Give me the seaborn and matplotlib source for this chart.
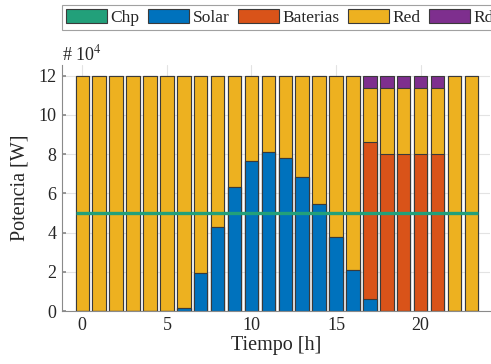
import numpy as np
import pandas as pd
import matplotlib
matplotlib.use("Agg")
import matplotlib.pyplot as plt
import seaborn as sns
from matplotlib.patches import Patch

sns.set_theme(style="white")
plt.rcParams['font.family'] = ['Liberation Serif', 'DejaVu Serif']
plt.rcParams['mathtext.fontset'] = 'stix'

hours = list(range(24))
chp = [5.0] * 24
solar = [0, 0, 0, 0, 0, 0, 0.15, 1.95, 4.3, 6.35, 7.65, 8.1, 7.8, 6.85, 5.45, 3.8, 2.1, 0.6,
         0, 0, 0, 0, 0, 0]
baterias = [0, 0, 0, 0, 0, 0, 0, 0, 0, 0, 0, 0, 0, 0, 0, 0, 0, 8.0, 8.0, 8.0, 8.0, 8.0, 0, 0]
red = [12, 12, 12, 12, 12, 12, 11.85, 10.05, 7.7, 5.65, 4.35, 3.9, 4.2, 5.15, 6.55, 8.2, 9.9,
       2.8, 3.4, 3.4, 3.4, 3.4, 12, 12]
rd = [0, 0, 0, 0, 0, 0, 0, 0, 0, 0, 0, 0, 0, 0, 0, 0, 0, 0.6, 0.6, 0.6, 0.6, 0.6, 0, 0]

labels = ["Chp", "Solar", "Baterias", "Red", "Rd"]
colors = {"Chp": "#22a07a", "Solar": "#0072BD", "Baterias": "#D95319",
          "Red": "#EDB120", "Rd": "#7E2F8E"}

df = pd.DataFrame({"h": hours, "Solar": solar, "Baterias": baterias, "Red": red, "Rd": rd})
stack_order = ["Solar", "Baterias", "Red", "Rd"]
cum = df[stack_order].cumsum(axis=1)

fig = plt.figure(figsize=(4.91, 3.64), dpi=100)
ax = fig.add_axes([62 / 491, 53 / 364, 428 / 491, 246 / 364])

for name in reversed(stack_order):
    sns.barplot(x=df["h"], y=cum[name], ax=ax, native_scale=True, color=colors[name],
                saturation=1, width=0.8, edgecolor="#3a3a3a", linewidth=0.8, zorder=2)

ax.plot([hours[0] - 0.4, hours[-1] + 0.4], [chp[0], chp[-1]], color=colors["Chp"],
        lw=2.4, zorder=4, solid_capstyle="butt")

ax.set_xlim(-1.2, 24.1)
ax.set_ylim(0, 12.55)
ax.set_xticks([0, 5, 10, 15, 20])
ax.set_yticks([0, 2, 4, 6, 8, 10, 12])
ax.set_xticklabels(["0", "5", "10", "15", "20"])
ax.set_yticklabels(["0", "2", "4", "6", "8", "10", "12"])
ax.grid(True, color="#e3e3e3", lw=0.8, zorder=0)
ax.set_axisbelow(True)
for s in ["top", "right"]:
    ax.spines[s].set_visible(False)
for s in ["left", "bottom"]:
    ax.spines[s].set_color("#8a8a8a")
    ax.spines[s].set_linewidth(0.8)
ax.tick_params(axis="both", direction="in", length=3, color="#8a8a8a",
               labelsize=13, labelcolor="#262626", pad=4, left=True, bottom=True)
ax.set_xlabel("Tiempo [h]", fontsize=14.5, color="#262626", labelpad=2)
ax.set_ylabel("Potencia [W]", fontsize=14.5, color="#262626", labelpad=6)

fig.text(62 / 491, 1 - 64 / 364, r"# 10$^{4}$", fontsize=13, color="#262626",
         ha="left", va="bottom")

handles = [Patch(facecolor=colors[n], edgecolor="#3a3a3a", linewidth=0.8) for n in labels]
leg = fig.legend(handles, labels, loc="upper left", bbox_to_anchor=(62 / 491, 1 - 5 / 364),
                 ncol=5, fancybox=False, frameon=True, edgecolor="#8a8a8a", fontsize=12.5,
                 handlelength=2.35, handleheight=0.8, handletextpad=0.2, columnspacing=0.5,
                 borderpad=0.25, borderaxespad=0)
leg.get_frame().set_linewidth(0.8)
for t in leg.get_texts():
    t.set_color("#262626")

fig.savefig("out.png", dpi=100)
